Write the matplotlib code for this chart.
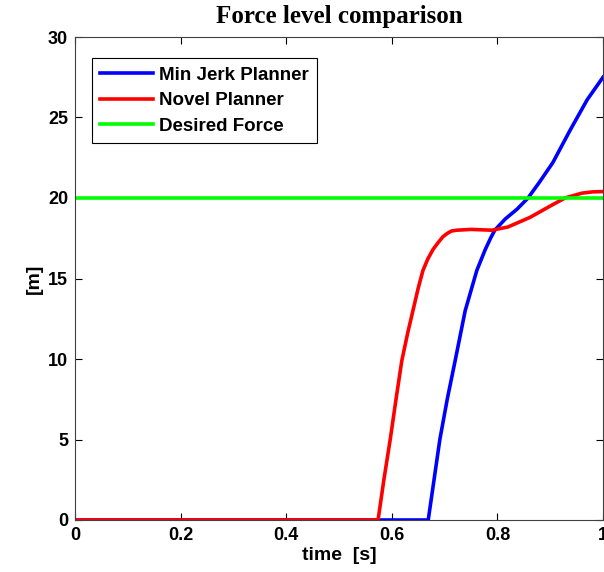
import matplotlib.pyplot as plt

# time [s] and level values
t_minjerk = [0, 0.669, 0.68, 0.691, 0.705, 0.72, 0.739, 0.761, 0.777, 0.787, 0.795,
             0.815, 0.837, 0.858, 0.88, 0.905, 0.9375, 0.97, 1.0]
f_minjerk = [0, 0, 2.5, 5.0, 7.5, 9.9, 13.0, 15.5, 16.8, 17.5, 18.0,
             18.7, 19.3, 20.0, 21.0, 22.2, 24.2, 26.1, 27.5]

t_novel = [0, 0.574, 0.585, 0.597, 0.608, 0.619, 0.63, 0.64, 0.65, 0.659, 0.668, 0.678,
           0.687, 0.697, 0.705, 0.713, 0.723, 0.75, 0.79, 0.82, 0.862, 0.9, 0.928, 0.96,
           0.98, 1.0]
f_novel = [0, 0, 2.5, 5.0, 7.5, 9.9, 11.6, 13.0, 14.4, 15.5, 16.2, 16.8,
           17.2, 17.6, 17.8, 17.95, 18.0, 18.05, 18.0, 18.2, 18.8, 19.5, 20.0, 20.3,
           20.38, 20.4]

t_desired = [0, 1]
f_desired = [20, 20]

sans = 'Liberation Sans'

fig = plt.figure(figsize=(6.04, 5.72), dpi=100)
ax = fig.add_axes([75 / 604, 52 / 572, 528 / 604, 483 / 572])

ax.plot(t_minjerk, f_minjerk, color=(0, 0, 1), lw=2.6, label='Min Jerk Planner')
ax.plot(t_novel, f_novel, color=(1, 0, 0), lw=2.6, label='Novel Planner')
ax.plot(t_desired, f_desired, color=(0, 1, 0), lw=2.6, label='Desired Force')

ax.set_xlim(0, 1)
ax.set_ylim(0, 30)
ax.set_xticks([0, 0.2, 0.4, 0.6, 0.8, 1])
ax.set_xticklabels(['0', '0.2', '0.4', '0.6', '0.8', '1'])
ax.set_yticks(range(0, 31, 5))
ax.tick_params(direction='in', top=True, right=True, length=5, width=0.8,
               labelsize=13, pad=5)
for lab in ax.get_xticklabels() + ax.get_yticklabels():
    lab.set_fontfamily(sans)
    lab.set_fontweight('bold')
for s in ax.spines.values():
    s.set_color('#404040')

ax.set_xlabel('time  [s]', fontfamily=sans, fontweight='bold', fontsize=14, labelpad=2)
ax.set_ylabel('[m]', fontfamily=sans, fontweight='bold', fontsize=14)
ax.set_title('Force level comparison', fontfamily='Liberation Serif',
             fontweight='bold', fontsize=18, pad=10)

leg = ax.legend(loc='upper left', bbox_to_anchor=(17 / 528, 1 - 21 / 483),
                prop={'family': sans, 'weight': 'bold', 'size': 13.5},
                handlelength=2.8, handletextpad=0.3, fancybox=False, framealpha=1,
                borderaxespad=0, labelspacing=0.45, borderpad=0.45)
leg.get_frame().set_edgecolor('black')
leg.get_frame().set_linewidth(0.8)

fig.savefig('out.png', dpi=100)
